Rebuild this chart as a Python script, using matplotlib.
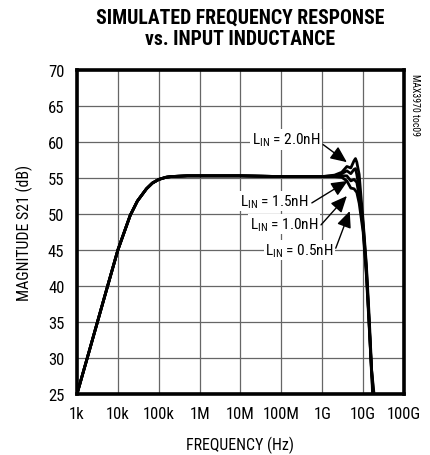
import matplotlib
matplotlib.use("Agg")
import matplotlib.pyplot as plt
from matplotlib import font_manager

fl = font_manager.fontManager.ttflist
names = {f.name for f in fl}
cands = ['Liberation Sans Narrow', 'Arial Narrow', 'Roboto Condensed', 'Open Sans Condensed',
         'DejaVu Sans Condensed', 'Nimbus Sans Narrow']
narrow = next((c for c in cands if c in names), None)
stretch = 'normal'
if narrow is None:
    cond = [f for f in fl if str(f.stretch) in ('condensed', 'semi-condensed', 'extra-condensed')]
    if cond:
        narrow = cond[0].name
        stretch = cond[0].stretch
if narrow is None:
    narrow = 'Liberation Sans'
    k = 0.84
else:
    k = 1.0
plt.rcParams['font.family'] = [narrow, 'DejaVu Sans']
plt.rcParams['font.stretch'] = stretch

# Data (frequency in Hz, magnitude in dB)
freq_low = [1e3, 2e3, 5e3, 1e4, 2e4, 3e4, 5e4, 7e4, 1e5, 1.5e5, 2e5, 5e5, 1e6, 1e7, 1e8, 1e9]
mag_low = [25.0, 31.0, 39.0, 45.0, 49.8, 51.8, 53.5, 54.3, 54.8, 55.1, 55.2, 55.3, 55.3, 55.3, 55.2, 55.2]

freq_20 = [2e9, 3e9, 4e9, 5e9, 6e9, 6.5e9, 7e9, 8e9, 9e9, 1e10, 1.2e10, 1.4e10, 1.6e10, 1.7e10]
mag_20 = [55.4, 55.8, 56.6, 56.4, 57.4, 57.7, 57.2, 55.5, 52.0, 49.0, 43.0, 36.0, 29.0, 25.0]

freq_15 = [2e9, 3e9, 4e9, 5e9, 6e9, 6.5e9, 7e9, 8e9, 9e9, 1e10, 1.2e10, 1.4e10, 1.6e10, 1.75e10]
mag_15 = [55.3, 55.6, 56.0, 55.6, 56.2, 56.3, 55.5, 53.5, 51.0, 48.5, 42.5, 35.0, 28.0, 25.0]

freq_10 = [2e9, 3e9, 4e9, 5e9, 6e9, 7e9, 8e9, 1e10, 1.2e10, 1.4e10, 1.6e10, 1.8e10]
mag_10 = [55.2, 55.3, 55.3, 54.6, 54.8, 54.4, 52.5, 48.0, 42.0, 35.0, 28.5, 25.0]

freq_05 = [2e9, 3e9, 4e9, 5e9, 6e9, 7e9, 8e9, 1e10, 1.2e10, 1.4e10, 1.6e10, 1.85e10]
mag_05 = [55.2, 55.1, 54.6, 53.6, 53.5, 53.0, 51.5, 47.5, 41.5, 34.5, 28.5, 25.0]

series = [
    (freq_20, mag_20),
    (freq_15, mag_15),
    (freq_10, mag_10),
    (freq_05, mag_05),
]

xticks = [1e3, 1e4, 1e5, 1e6, 1e7, 1e8, 1e9, 1e10, 1e11]
xticklabels = ['1k', '10k', '100k', '1M', '10M', '100M', '1G', '10G', '100G']
yticks = [25, 30, 35, 40, 45, 50, 55, 60, 65, 70]

# annotation labels: (text, label left position, arrow tip)
labels = [
    ('L$_{\\mathregular{IN}}$ = 2.0nH', (1.9e7, 60.4), (4.0e9, 57.2)),
    ('L$_{\\mathregular{IN}}$ = 1.5nH', (1.0e7, 51.8), (4.2e9, 54.6)),
    ('L$_{\\mathregular{IN}}$ = 1.0nH', (1.7e7, 48.6), (4.0e9, 52.5)),
    ('L$_{\\mathregular{IN}}$ = 0.5nH', (4.0e7, 45.0), (4.7e9, 50.4)),
]

fig = plt.figure(figsize=(4.31, 4.56), dpi=100)
ax = fig.add_axes([77/431, 1-395/456, (404-77)/431, (395-71)/456])

for fx, my in series:
    ax.plot(freq_low + fx, mag_low + my, color='black', lw=2.0, solid_joinstyle='round')

ax.set_xscale('log')
ax.set_xlim(1e3, 1e11)
ax.set_ylim(25, 70)
ax.set_xticks(xticks)
ax.set_xticklabels(xticklabels)
ax.set_yticks(yticks)
ax.minorticks_off()
ax.tick_params(length=0, labelsize=12*k, pad=9)
ax.grid(True, color='#666666', lw=0.9)
ax.set_axisbelow(True)
for s in ax.spines.values():
    s.set_linewidth(2.6)

for txt, pos, tip in labels:
    ax.annotate(txt, xy=tip, xytext=pos, fontsize=12*k*0.92, ha='left', va='center',
                bbox=dict(boxstyle='square,pad=0.1', fc='white', ec='none'),
                arrowprops=dict(arrowstyle='-|>,head_length=0.9,head_width=0.4',
                                color='black', lw=1.0, shrinkA=1, shrinkB=0,
                                relpos=(1.0, 0.3)))

ax.set_xlabel('FREQUENCY (Hz)', fontsize=12*k*0.95, labelpad=10)
ax.set_ylabel('MAGNITUDE S21 (dB)', fontsize=12*k*0.95, labelpad=11)

fig.text(0.557, 1-18/456, 'SIMULATED FREQUENCY RESPONSE', ha='center', va='center',
         fontsize=14.2*k, fontweight='heavy')
fig.text(0.557, 1-39.5/456, 'vs. INPUT INDUCTANCE', ha='center', va='center',
         fontsize=14.2*k, fontweight='heavy')
fig.text(415/431, 1-105/456, 'MAX3970 toc09', rotation=270, ha='center', va='center',
         fontsize=7)

fig.savefig('out.png', dpi=100)
